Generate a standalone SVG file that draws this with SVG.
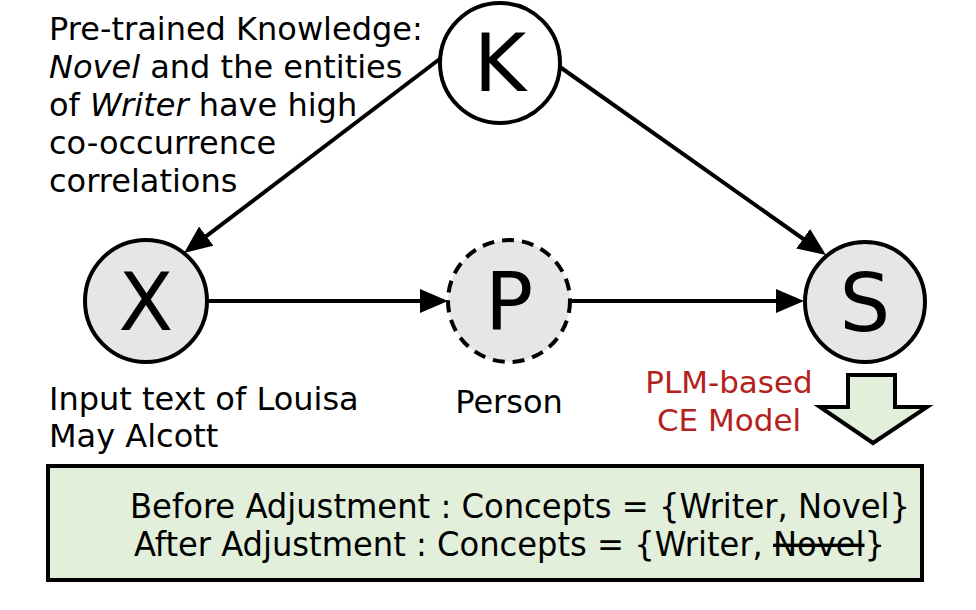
<svg xmlns="http://www.w3.org/2000/svg" width="976" height="610" viewBox="0 0 976 610">
<defs>
<marker id="ah" markerUnits="userSpaceOnUse" markerWidth="28" markerHeight="24" viewBox="0 0 28 24" refX="22" refY="12" orient="auto">
<path d="M0,0 L28,12 L0,24 z" fill="#000"/>
</marker>
<style>
.node{stroke:#000;stroke-width:4}
.gray{fill:#e6e6e6}
.letter{font-family:"DejaVu Sans","Liberation Sans",sans-serif;font-size:80px;fill:#000;text-anchor:middle}
.lbl{font-family:"DejaVu Sans","Verdana","Liberation Sans",sans-serif;font-size:32px;fill:#000}
.red{fill:#b5211b;text-anchor:middle;font-size:31px}
.edge{stroke:#000;stroke-width:4;fill:none;marker-end:url(#ah)}
.box{font-family:"DejaVu Sans Condensed","DejaVu Sans","Liberation Sans Narrow",sans-serif;font-size:34px;fill:#000}
</style>
</defs>
<rect width="976" height="610" fill="#fff"/>

<g id="edges">
<line class="edge" x1="441" y1="58" x2="188.8" y2="249.4"/>
<line class="edge" x1="560" y1="67" x2="821.1" y2="251.5"/>
<line class="edge" x1="207" y1="301" x2="442" y2="301"/>
<line class="edge" x1="570" y1="301" x2="798" y2="301"/>
</g>

<g id="node-K">
<circle class="node" cx="500" cy="63" r="60" fill="#fff"/>
<text class="letter" x="500" y="91">K</text>
</g>
<g id="node-X">
<circle class="node gray" cx="146" cy="301" r="61"/>
<text class="letter" x="146" y="330">X</text>
</g>
<g id="node-P">
<circle class="node gray" cx="509" cy="301" r="61" stroke-dasharray="12 8"/>
<text class="letter" x="509" y="330">P</text>
</g>
<g id="node-S">
<circle class="node gray" cx="865" cy="302" r="60"/>
<text class="letter" x="865" y="331">S</text>
</g>

<g id="label-knowledge" class="lbl">
<text x="49" y="40">Pre-trained Knowledge:</text>
<text x="49" y="78"><tspan font-style="italic">Novel</tspan> and the entities</text>
<text x="49" y="116">of <tspan font-style="italic">Writer</tspan> have high</text>
<text x="49" y="154">co-occurrence</text>
<text x="49" y="192">correlations</text>
</g>

<g id="label-X" class="lbl">
<text x="49" y="410">Input text of Louisa</text>
<text x="49" y="447">May Alcott</text>
</g>
<g id="label-P" class="lbl">
<text x="509" y="413" text-anchor="middle">Person</text>
</g>
<g id="label-model" class="lbl red">
<text x="729" y="393">PLM-based</text>
<text x="729" y="431">CE Model</text>
</g>

<g id="block-arrow">
<path d="M848,375 L895,375 L895,407 L927,407 L873,443 L820,407 L848,407 Z" fill="#e2efda" stroke="#000" stroke-width="4" stroke-linejoin="miter"/>
</g>

<g id="result-box">
<rect x="48" y="466" width="874" height="114" fill="#e2efda" stroke="#000" stroke-width="4"/>
<text class="box" x="130" y="518" textLength="780" lengthAdjust="spacingAndGlyphs">Before Adjustment : Concepts = {Writer, Novel}</text>
<text class="box" x="134" y="556" textLength="751" lengthAdjust="spacingAndGlyphs">After Adjustment : Concepts = {Writer, <tspan text-decoration="line-through">Novel</tspan>}</text>
</g>
</svg>
